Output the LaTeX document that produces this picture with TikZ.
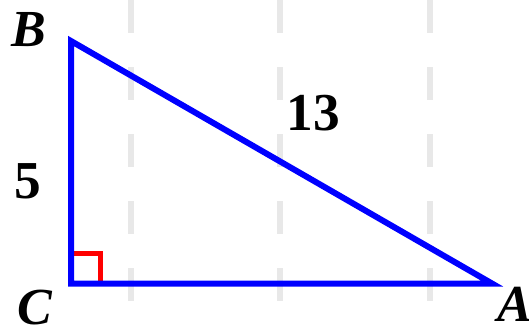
\documentclass[tikz,border=0pt]{standalone}
\usepackage{fontspec}
\setmainfont{Liberation Serif}
\begin{document}
\begin{tikzpicture}[x=0.75pt,y=-0.75pt,
  lbl/.style={font=\fontsize{39}{42}\selectfont\bfseries\itshape,inner sep=0pt},
  num/.style={font=\fontsize{40}{44}\selectfont\bfseries,inner sep=0pt}]
\useasboundingbox (0,0) rectangle (529,330);
% grid
\foreach \x in {131,280,430}
{
  \draw[black!9,line width=4.5pt,dash pattern=on 24.75pt off 25.5pt] (\x,0) -- (\x,301);
}
\coordinate (B) at (71,41);
\coordinate (C) at (71,283.5);
\coordinate (A) at (492,283.5);
% right angle
\draw[red,line width=3.75pt] (71,253) -- (100,253) -- (100,283.5);
\draw[blue,line width=4.5pt,line join=miter] (B) -- (C) -- (A) -- cycle;
\node[lbl] (labB) at (29,30) {B};
\node[lbl] (labC) at (34.5,307.5) {C};
\node[lbl] (labA) at (515,304) {A};
\node[num] (legBC) at (27.5,181) {5};
\node[num] (legAB) at (313,113.5) {13};
\end{tikzpicture}
\end{document}
